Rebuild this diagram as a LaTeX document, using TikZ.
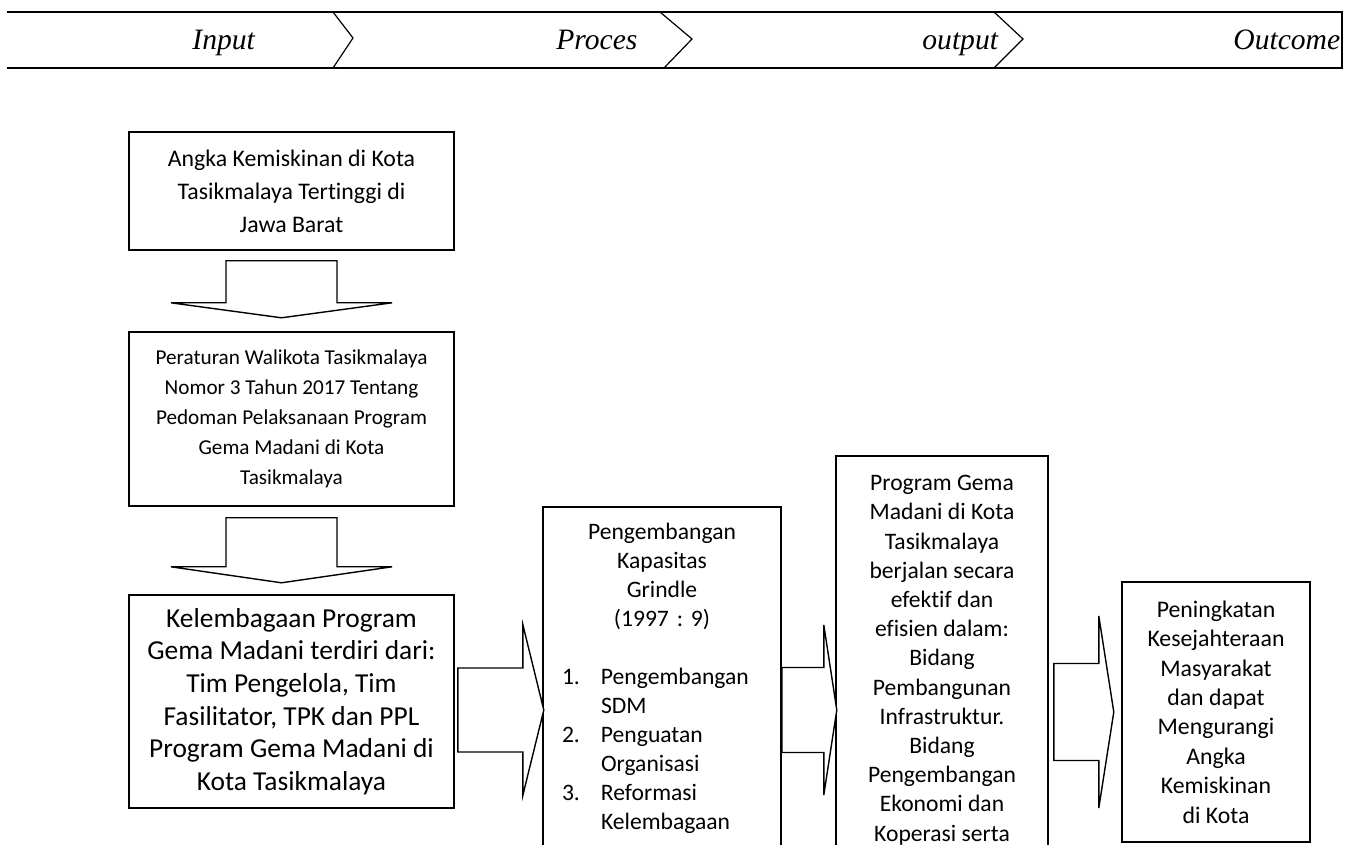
\documentclass[tikz,border=0pt]{standalone}
\usepackage{fontspec}
\setmainfont{Carlito}[Ligatures={NoCommon,NoRequired,NoContextual}, Contextuals=NoAlternate]
\newfontfamily\serifit{Liberation Serif}
\usetikzlibrary{calc}
\setlength{\parindent}{0pt}
\frenchspacing

\tikzset{
  kotak/.style={draw, line width=0.8pt, align=center, inner sep=0pt},
  isi/.style={inner sep=0pt, anchor=north},
  panah/.style={draw, line width=0.7pt, line join=miter, fill=white},
  pita/.style={line width=0.9pt},
  pisah/.style={line width=0.6pt},
  judul/.style={font=\serifit\itshape\fontsize{14.8}{17}\selectfont, anchor=base west, inner sep=0pt},
}

% block arrow to the right: start (middle of shaft end), shaft length, half shaft, half head, head length
\newcommand{\panahkanan}[5]{%
  \draw[panah] #1 ++(0,-#3) -- ++(#2,0) -- ++(0,#3-#4) -- ++(#5,#4) -- ++(-#5,#4) -- ++(0,#3-#4) -- ++(-#2,0) -- cycle;}
% block arrow downwards: start (middle of shaft top), shaft length, half shaft, half head, head length
\newcommand{\panahbawah}[5]{%
  \draw[panah] #1 ++(-#3,0) -- ++(0,#2) -- ++(#3-#4,0) -- ++(#4,#5) -- ++(#4,-#5) -- ++(#3-#4,0) -- ++(0,-#2) -- cycle;}

\begin{document}
\begin{tikzpicture}[x=0.5pt,y=-0.5pt]
\useasboundingbox (0,0) rectangle (1346,845);
\clip (0,0) rectangle (1346,845);
\fill[white] (0,0) rectangle (1346,845);

% band on top
\draw[pita] (7,12) -- (1342,12) -- (1342,68) -- (7,68);
\draw[pisah] (333,12) -- (353,38) -- (333,68);
\draw[pisah] (660,12) -- (692,39) -- (664,68);
\draw[pisah] (994,12) -- (1023,39) -- (994,68);
\node[judul] (input) at (192,50) {Input};
\node[judul] (proses) at (556,50) {Proces};
\node[judul] (output) at (922,50) {output};
\node[judul] (outcome) at (1233,50) {Outcome};

% left column
\node[kotak, minimum width=162.5pt, minimum height=59pt, font=\fontsize{11.9}{16.5}\selectfont] (b1) at (291.5,191)
  {Angka Kemiskinan di Kota\\Tasikmalaya Tertinggi di\\Jawa Barat};
\node[kotak, minimum width=162.5pt, minimum height=87pt, font=\fontsize{10.6}{15}\selectfont] (b2) at (291.5,419)
  {Peraturan Walikota Tasikmalaya\\Nomor 3 Tahun 2017 Tentang\\Pedoman Pelaksanaan Program\\Gema Madani di Kota\\Tasikmalaya};
\node[kotak, minimum width=162.5pt, minimum height=106.5pt, font=\fontsize{13.7}{16.3}\selectfont] (b3) at (291.5,701.5)
  {Kelembagaan Program\\Gema Madani terdiri dari:\\Tim Pengelola, Tim\\Fasilitator, TPK dan PPL\\Program Gema Madani di\\Kota Tasikmalaya};

\panahbawah{($(b1.south)+(-10,10)$)}{42}{55.5}{110.5}{15}
\panahbawah{($(b2.south)+(-10,11)$)}{49}{55.5}{110.5}{16}

% capacity box
\node[kotak, anchor=north, minimum width=119pt, minimum height=200pt] (b4) at (662,506) {};
\node[isi, text width=119pt, align=left, font=\fontsize{11.8}{14.5}\selectfont] (t4) at ($(b4.north)+(0,17)$)
  {{\centering Pengembangan\\Kapasitas\\Grindle\\(1997 : 9)\par}
   \vspace{14.5pt}
   \hspace*{9.5pt}\makebox[19.5pt][l]{1.}Pengembangan\\
   \hspace*{29pt}SDM\\
   \hspace*{9.5pt}\makebox[19.5pt][l]{2.}Penguatan\\
   \hspace*{29pt}Organisasi\\
   \hspace*{9.5pt}\makebox[19.5pt][l]{3.}Reformasi\\
   \hspace*{29pt}Kelembagaan};

% output box
\node[kotak, anchor=north, minimum width=106pt, minimum height=220pt] (b5) at (942,455) {};
\node[isi, align=center, font=\fontsize{11.8}{14.6}\selectfont] (t5) at ($(b5.north)+(0,20)$)
  {Program Gema\\Madani di Kota\\Tasikmalaya\\berjalan secara\\efektif dan\\efisien dalam:\\Bidang\\Pembangunan\\Infrastruktur.\\Bidang\\Pengembangan\\Ekonomi dan\\Koperasi serta};

% outcome box
\node[kotak, minimum width=94pt, minimum height=130pt, font=\fontsize{11.9}{14.7}\selectfont] (b6) at (1216,712)
  {Peningkatan\\Kesejahteraan\\Masyarakat\\dan dapat\\Mengurangi\\Angka\\Kemiskinan\\di Kota};

\coordinate (ra1) at ($(b3.east)+(3,8.5)$);
\coordinate (ra2) at (b4.east |- ra1);
\coordinate (ra3) at ($(b5.east |- ra1)+(5,2)$);
\panahkanan{(ra1)}{65}{42}{85.5}{21}
\panahkanan{(ra2)}{42}{42.5}{85}{13}
\panahkanan{(ra3)}{45}{48.5}{96}{15}
\end{tikzpicture}
\end{document}
